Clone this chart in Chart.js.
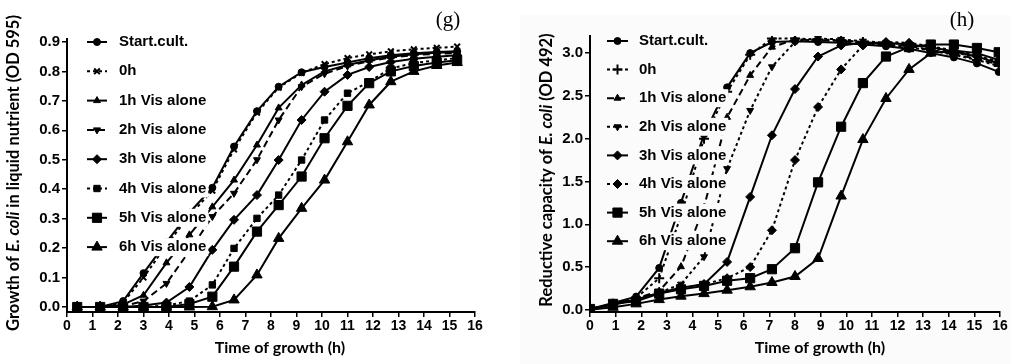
<!DOCTYPE html>
<html>
<head>
<meta charset="utf-8">
<script src="https://cdn.jsdelivr.net/npm/chart.js@4.4.1/dist/chart.umd.min.js"></script>
<style>
  html, body { margin: 0; padding: 0; background: #fff; }
  #wrap { position: relative; width: 1011px; height: 364px; overflow: hidden; }
  .panel { position: absolute; top: 0; height: 364px; }
</style>
</head>
<body>
<div id="wrap">
  <div class="panel" style="left:0;width:505px"><canvas id="chartG" width="505" height="364"></canvas></div>
  <div class="panel" style="left:505px;width:506px"><canvas id="chartH" width="506" height="364"></canvas></div>
</div>
<script>
// ---- data ----
var seriesNames = ['Start.cult.', '0h', '1h Vis alone', '2h Vis alone', '3h Vis alone', '4h Vis alone', '5h Vis alone', '6h Vis alone'];
var xTicks = [0, 1, 2, 3, 4, 5, 6, 7, 8, 9, 10, 11, 12, 13, 14, 15, 16];

// (g) growth, OD 595
var timesG = [0.4, 1.3, 2.2, 3.0, 3.9, 4.8, 5.7, 6.55, 7.45, 8.3, 9.2, 10.1, 11.0, 11.85, 12.7, 13.6, 14.5, 15.3];
var gStart = [0, 0, 0.02, 0.115, 0.22, 0.32, 0.405, 0.545, 0.665, 0.748, 0.797, 0.815, 0.83, 0.845, 0.855, 0.862, 0.866, 0.868];
var g0h    = [0, 0, 0.015, 0.10, 0.21, 0.31, 0.395, 0.535, 0.66, 0.745, 0.795, 0.825, 0.845, 0.858, 0.868, 0.875, 0.88, 0.884];
var g1h    = [0, 0, 0.008, 0.04, 0.15, 0.245, 0.34, 0.431, 0.55, 0.676, 0.754, 0.8, 0.822, 0.838, 0.85, 0.858, 0.863, 0.866];
var g2h    = [0, 0, 0.003, 0.02, 0.08, 0.19, 0.307, 0.386, 0.5, 0.635, 0.748, 0.792, 0.818, 0.835, 0.847, 0.855, 0.86, 0.862];
var g3h    = [0, 0, 0, 0.005, 0.015, 0.068, 0.194, 0.296, 0.38, 0.499, 0.635, 0.731, 0.788, 0.815, 0.832, 0.843, 0.85, 0.855];
var g4h    = [0, 0, 0, 0, 0.005, 0.02, 0.075, 0.199, 0.301, 0.38, 0.499, 0.635, 0.726, 0.765, 0.81, 0.828, 0.838, 0.845];
var g5h    = [0, 0, 0, 0, 0, 0.01, 0.035, 0.137, 0.256, 0.346, 0.443, 0.573, 0.683, 0.76, 0.8, 0.818, 0.83, 0.838];
var g6h    = [0, 0, 0, 0, 0, 0, 0.001, 0.024, 0.109, 0.233, 0.335, 0.431, 0.561, 0.686, 0.765, 0.8, 0.82, 0.83];
var yTicksG = [0, 0.1, 0.2, 0.3, 0.4, 0.5, 0.6, 0.7, 0.8, 0.9];

// (h) reductive capacity, OD 492
var timesH = [0, 0.9, 1.8, 2.7, 3.55, 4.45, 5.35, 6.25, 7.1, 8.0, 8.9, 9.8, 10.65, 11.55, 12.45, 13.3, 14.2, 15.1, 15.95];
var hStart = [0.01, 0.08, 0.155, 0.49, 1.25, 2.05, 2.6, 3.0, 3.13, 3.14, 3.13, 3.12, 3.1, 3.08, 3.05, 3.0, 2.95, 2.88, 2.78];
var h0h    = [0.01, 0.07, 0.14, 0.37, 1.1, 2.0, 2.55, 2.98, 3.17, 3.17, 3.16, 3.15, 3.13, 3.1, 3.07, 3.03, 2.98, 2.92, 2.85];
var h1h    = [0.01, 0.07, 0.13, 0.22, 0.505, 1.2, 2.25, 2.74, 3.07, 3.16, 3.15, 3.14, 3.12, 3.1, 3.08, 3.04, 2.99, 2.93, 2.87];
var h2h    = [0.01, 0.06, 0.12, 0.2, 0.3, 0.62, 1.65, 2.33, 2.84, 3.13, 3.17, 3.16, 3.14, 3.12, 3.1, 3.06, 3.01, 2.95, 2.9];
var h3h    = [0.01, 0.06, 0.12, 0.2, 0.26, 0.3, 0.56, 1.32, 2.04, 2.58, 2.96, 3.09, 3.12, 3.12, 3.1, 3.07, 3.02, 2.96, 2.88];
var h4h    = [0.01, 0.06, 0.12, 0.19, 0.25, 0.3, 0.37, 0.5, 0.93, 1.75, 2.37, 2.81, 3.09, 3.13, 3.12, 3.08, 3.03, 2.97, 2.9];
var h5h    = [0.01, 0.07, 0.1, 0.19, 0.24, 0.28, 0.34, 0.37, 0.475, 0.72, 1.49, 2.14, 2.65, 2.96, 3.07, 3.1, 3.1, 3.06, 3.01];
var h6h    = [0.0, 0.03, 0.07, 0.12, 0.16, 0.19, 0.23, 0.27, 0.32, 0.39, 0.6, 1.33, 1.99, 2.47, 2.81, 3.0, 3.03, 3.0, 2.92];
var yTicksH = [0, 0.5, 1.0, 1.5, 2.0, 2.5, 3.0];

// ---- styles ----
var stylesG = [
  {dash: [], point: 'circle', r: 3.5},
  {dash: [3, 3], point: 'crossRot', r: 4},
  {dash: [], point: 'triangle', r: 4},
  {dash: [7, 4], point: 'triangle', rot: 180, r: 4},
  {dash: [], point: 'rectRot', r: 4.5},
  {dash: [3, 3], point: 'rect', r: 4.5},
  {dash: [], point: 'rect', r: 6.5},
  {dash: [], point: 'triangle', r: 6}
];
var stylesH = [
  {dash: [], point: 'circle', r: 3.5},
  {dash: [3, 3], point: 'cross', r: 5},
  {dash: [7, 4], point: 'triangle', r: 4},
  {dash: [3, 3], point: 'triangle', rot: 180, r: 4},
  {dash: [], point: 'rectRot', r: 4.5},
  {dash: [3, 3], point: 'rectRot', r: 4.5},
  {dash: [], point: 'rect', r: 6.5},
  {dash: [], point: 'triangle', r: 6}
];

var tickFont = {family: 'Liberation Sans', weight: 'bold', size: 14};
var titleFont = 'bold 16px Lato';

function drawRotatedTitle(ctx, parts, cx, cy, font) {
  ctx.save();
  ctx.translate(cx, cy);
  ctx.rotate(-Math.PI / 2);
  ctx.textBaseline = 'middle';
  ctx.textAlign = 'left';
  var total = 0;
  parts.forEach(function(p) {
    ctx.font = (p[1] ? 'italic ' : '') + font;
    total += ctx.measureText(p[0]).width;
  });
  var x = -total / 2;
  parts.forEach(function(p) {
    ctx.font = (p[1] ? 'italic ' : '') + font;
    ctx.fillText(p[0], x, 0);
    x += ctx.measureText(p[0]).width;
  });
  ctx.restore();
}

function decorPlugin(cfg) {
  return {
    id: 'decor',
    beforeDraw: function(chart) {
      if (!cfg.bg) return;
      var ctx = chart.ctx;
      ctx.save();
      ctx.fillStyle = cfg.bg;
      ctx.fillRect(15, 15, chart.width - 15, chart.height - 15);
      ctx.restore();
    },
    afterDatasetsDraw: function(chart) {
      var ctx = chart.ctx;
      ctx.save();
      seriesNames.forEach(function(name, i) {
        var st = cfg.styles[i];
        var y = cfg.legY + i * cfg.legGap;
        ctx.font = 'bold 15px "Liberation Sans"';
        var w = ctx.measureText(name).width;
        ctx.fillStyle = cfg.bg || '#fff';
        ctx.fillRect(cfg.legX0 - 3, y - 9, cfg.textX - cfg.legX0 + w + 5, 18);
        ctx.strokeStyle = '#000';
        ctx.lineWidth = 2;
        ctx.setLineDash(st.dash);
        ctx.beginPath();
        ctx.moveTo(cfg.legX0, y);
        ctx.lineTo(cfg.legX1, y);
        ctx.stroke();
        ctx.setLineDash([]);
        ctx.fillStyle = '#000';
        ctx.lineWidth = st.point.indexOf('cross') === 0 ? 2 : 1;
        Chart.helpers.drawPoint(ctx, {pointStyle: st.point, radius: st.r, rotation: st.rot || 0, borderWidth: ctx.lineWidth}, (cfg.legX0 + cfg.legX1) / 2, y);
        ctx.fillStyle = '#000';
        ctx.textBaseline = 'middle';
        ctx.textAlign = 'left';
        ctx.fillText(name, cfg.textX, y);
      });
      ctx.restore();
    },
    afterDraw: function(chart) {
      var ctx = chart.ctx;
      ctx.save();
      ctx.fillStyle = '#000';
      ctx.font = titleFont;
      ctx.textAlign = 'center';
      ctx.textBaseline = 'middle';
      ctx.fillText('Time of growth (h)', cfg.xTitleX, 348);
      drawRotatedTitle(ctx, cfg.yTitle, cfg.yTitleX, cfg.yTitleY, 'bold 16.5px Lato');
      ctx.font = '21px "Liberation Serif"';
      ctx.fillText(cfg.panel, cfg.panelX, 20);
      ctx.restore();
    }
  };
}

function makeChart(id, cfg) {
  var datasets = cfg.series.map(function(vals, i) {
    var st = cfg.styles[i];
    return {
      label: seriesNames[i],
      data: cfg.times.map(function(t, k) { return {x: t, y: vals[k]}; }),
      borderColor: '#000',
      backgroundColor: '#000',
      borderWidth: 2,
      borderDash: st.dash,
      pointStyle: st.point,
      pointRadius: st.r,
      pointRotation: st.rot || 0,
      pointBorderWidth: st.point.indexOf('cross') === 0 ? 2 : 1,
      pointBackgroundColor: '#000',
      pointBorderColor: '#000',
      tension: 0,
      fill: false
    };
  });
  return new Chart(document.getElementById(id), {
    type: 'line',
    data: {datasets: datasets},
    options: {
      responsive: false,
      animation: false,
      devicePixelRatio: 1,
      layout: {padding: {top: cfg.top, right: cfg.right, left: 0, bottom: 0}},
      plugins: {legend: {display: false}, tooltip: {enabled: false}},
      scales: {
        x: {
          type: 'linear', min: 0, max: 16,
          afterBuildTicks: function(s) { s.ticks = xTicks.map(function(v) { return {value: v}; }); },
          afterFit: function(s) { s.height = 364 - cfg.axisY; },
          ticks: {color: '#000', font: tickFont, padding: 1, maxRotation: 0, autoSkip: false},
          grid: {drawOnChartArea: false, color: '#000', tickLength: 5, lineWidth: 1.5},
          border: {color: '#000', width: 2}
        },
        y: {
          type: 'linear', min: cfg.yMin, max: cfg.yMax,
          afterBuildTicks: function(s) { s.ticks = cfg.yTicks.map(function(v) { return {value: v}; }); },
          afterFit: function(s) { s.width = cfg.axisX; },
          ticks: {color: '#000', font: {family: 'Liberation Sans', weight: 'bold', size: 15}, padding: 2,
                  callback: function(v) { return v.toFixed(1); }},
          grid: {drawOnChartArea: false, color: '#000', tickLength: 5, lineWidth: 1.5},
          border: {color: '#000', width: 2}
        }
      }
    },
    plugins: [decorPlugin(cfg)]
  });
}

makeChart('chartG', {
  times: timesG,
  series: [gStart, g0h, g1h, g2h, g3h, g4h, g5h, g6h],
  styles: stylesG,
  yTicks: yTicksG, yMin: -0.017, yMax: 0.91,
  top: 39, right: 30, axisX: 67, axisY: 312,
  legX0: 87, legX1: 107, textX: 119, legY: 42, legGap: 29.3,
  xTitleX: 280, yTitleX: 14, yTitleY: 173,
  yTitle: [['Growth of ', false], ['E. coli', true], [' in liquid nutrient (OD 595)', false]],
  panel: '(g)', panelX: 448
});

makeChart('chartH', {
  times: timesH,
  series: [hStart, h0h, h1h, h2h, h3h, h4h, h5h, h6h],
  styles: stylesH,
  yTicks: yTicksH, yMin: -0.025, yMax: 3.2,
  top: 36, right: 11, axisX: 85, axisY: 312,
  legX0: 102, legX1: 123, textX: 134, legY: 41, legGap: 28.6,
  xTitleX: 315, yTitleX: 42, yTitleY: 170,
  yTitle: [['Reductive capacity of ', false], ['E. coli', true], [' (OD 492)', false]],
  panel: '(h)', panelX: 457,
  bg: '#fbfbfb'
});
</script>
</body>
</html>
